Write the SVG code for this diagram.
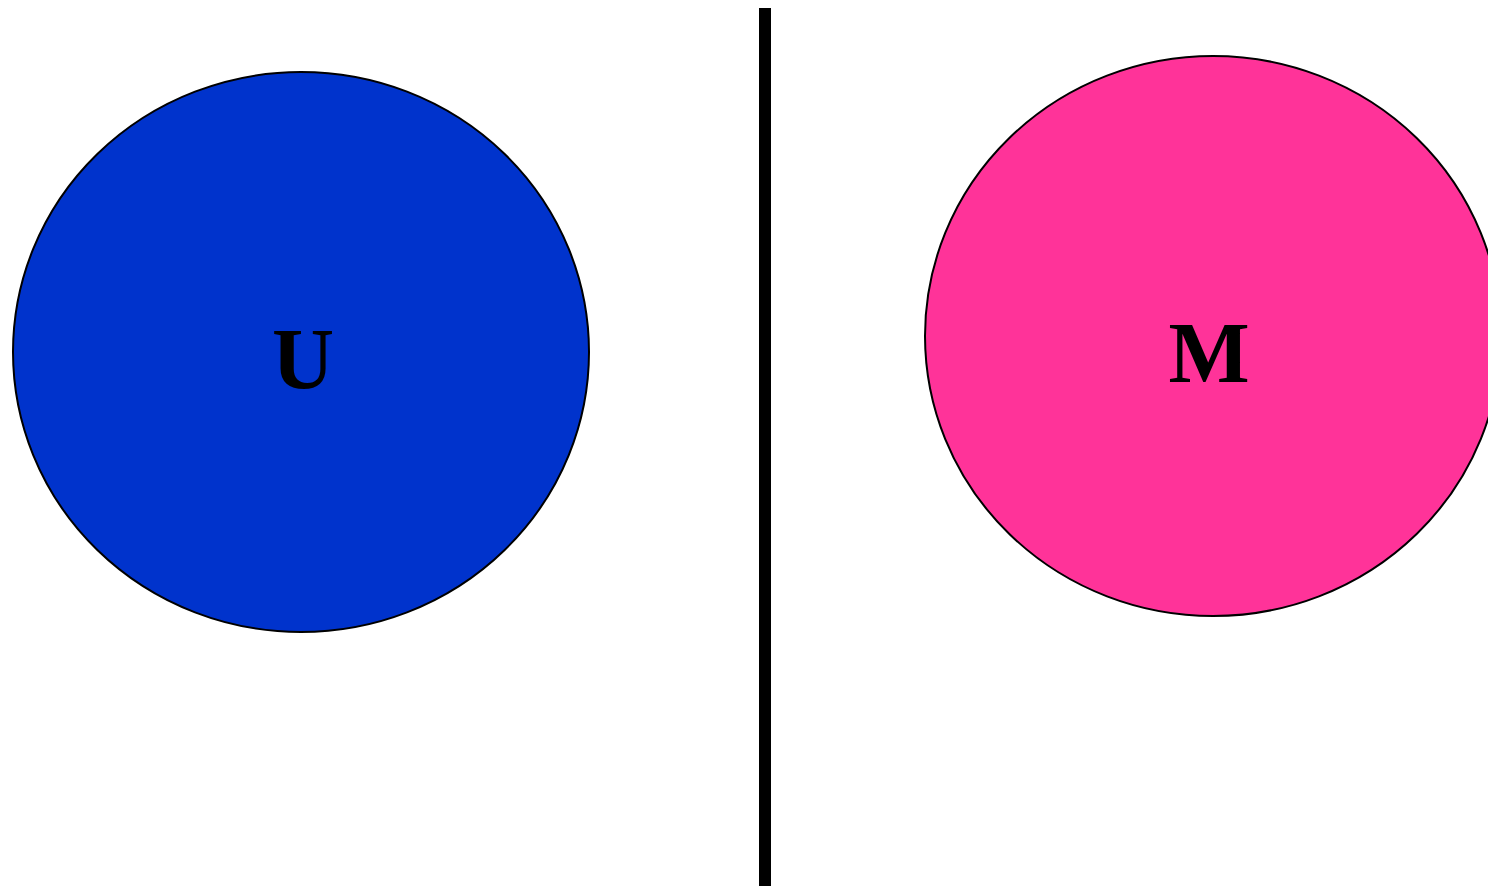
<svg xmlns="http://www.w3.org/2000/svg" width="1488" height="886" viewBox="0 0 1488 886">
<style>
.node{stroke:#000;stroke-width:2}
.lbl{font-family:"Liberation Serif","Times New Roman",serif;font-weight:bold;font-size:86px;fill:#000;text-anchor:middle}
</style>
<rect width="1488" height="886" fill="#fff"/>
<g id="U">
<ellipse class="node" cx="301" cy="352" rx="288" ry="280" fill="#0033cc"/>
<text class="lbl" x="303" y="388">U</text>
</g>
<g id="M">
<ellipse class="node" cx="1213" cy="336" rx="288" ry="280" fill="#ff3399"/>
<text class="lbl" x="1209" y="382">M</text>
</g>
<g id="connectors">
<rect x="759" y="8" width="12" height="878" fill="#000"/>
</g>
</svg>
